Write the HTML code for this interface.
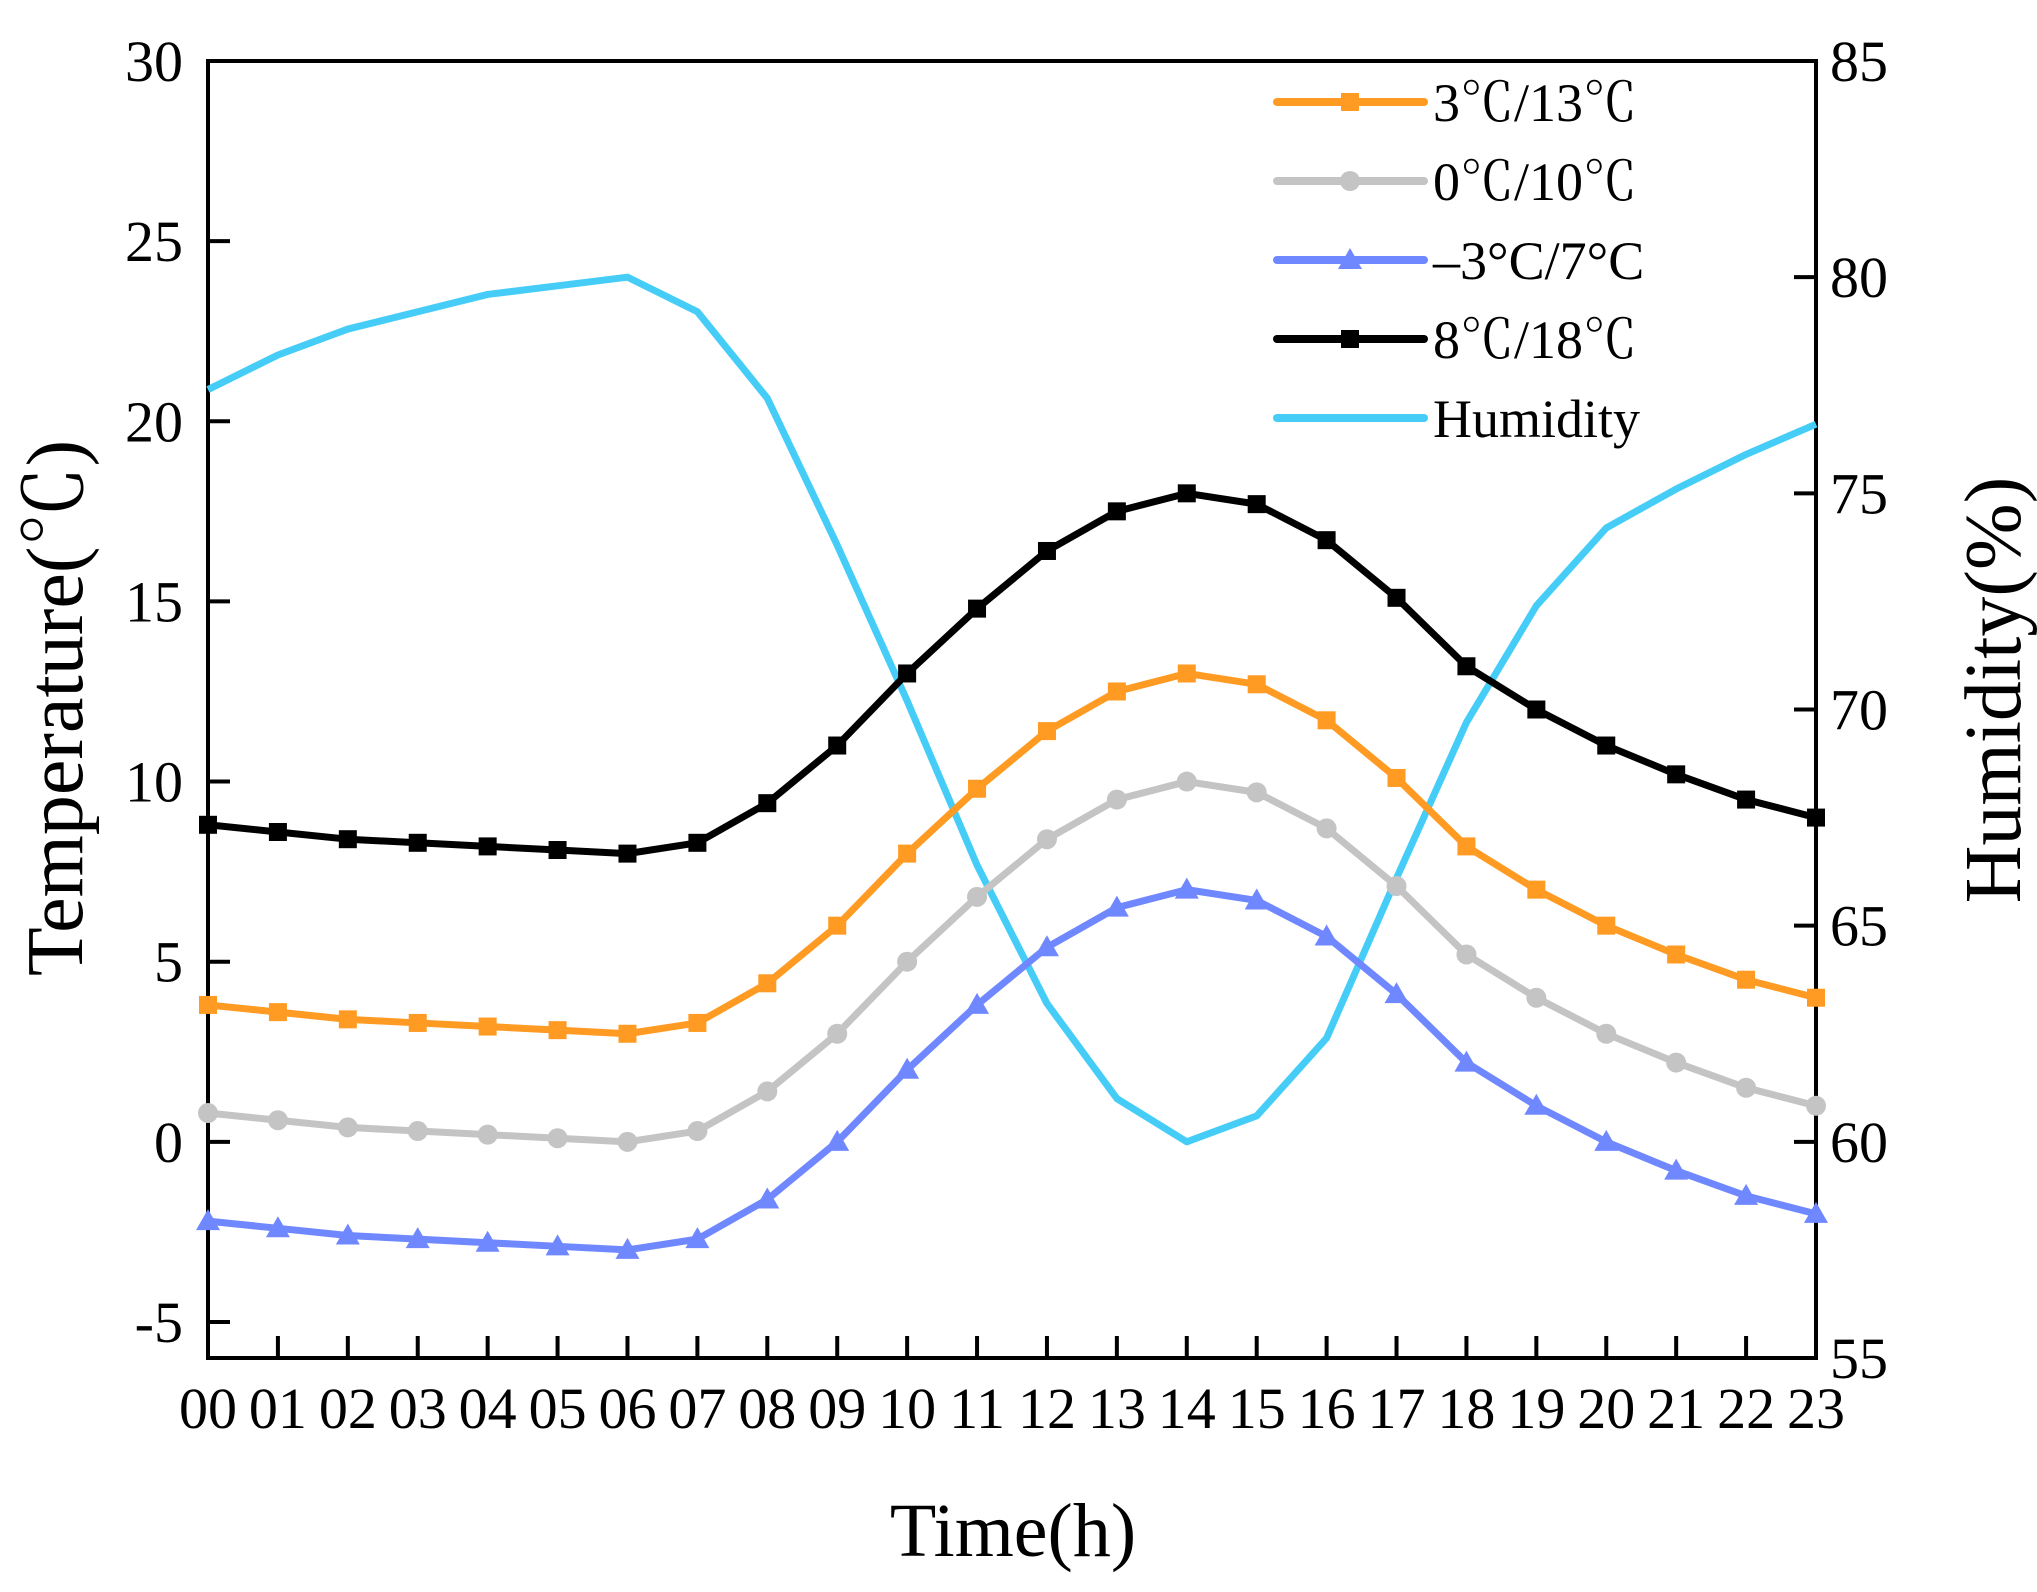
<!DOCTYPE html>
<html><head><meta charset="utf-8"><style>
html,body{margin:0;padding:0;background:#fff;}
svg{display:block;font-family:"Liberation Serif","Noto Serif CJK SC",serif;}
</style></head><body>
<svg id="chart" width="2037" height="1592" viewBox="0 0 2037 1592" xmlns="http://www.w3.org/2000/svg">
<g id="plot"></g>
</svg>
<script>
const hours = ["00","01","02","03","04","05","06","07","08","09","10","11","12","13","14","15","16","17","18","19","20","21","22","23"];
const s8_18 = [8.8,8.6,8.4,8.3,8.2,8.1,8.0,8.3,9.4,11,13,14.8,16.4,17.5,18,17.7,16.7,15.1,13.2,12,11,10.2,9.5,9.0];
const s3_13 = [3.8,3.6,3.4,3.3,3.2,3.1,3.0,3.3,4.4,6,8,9.8,11.4,12.5,13,12.7,11.7,10.1,8.2,7,6,5.2,4.5,4.0];
const s0_10 = [0.8,0.6,0.4,0.3,0.2,0.1,0,0.3,1.4,3,5,6.8,8.4,9.5,10,9.7,8.7,7.1,5.2,4,3,2.2,1.5,1.0];
const sm3_7 = [-2.2,-2.4,-2.6,-2.7,-2.8,-2.9,-3.0,-2.7,-1.6,0,2,3.8,5.4,6.5,7,6.7,5.7,4.1,2.2,1,0,-0.8,-1.5,-2.0];
const humidity = [77.4,78.2,78.8,79.2,79.6,79.8,80.0,79.2,77.2,73.8,70.2,66.4,63.2,61.0,60.0,60.6,62.4,66.1,69.7,72.4,74.2,75.1,75.9,76.6];
const tempTicks = [-5,0,5,10,15,20,25,30];
const humTicks = [55,60,65,70,75,80,85];

const L=208,R=1816,T=61,B=1358;
const xS=i=>L+(R-L)*i/(hours.length-1);
const yT=v=>B-(v-(-6))/(30-(-6))*(B-T);
const yH=v=>B-(v-55)/(85-55)*(B-T);
const NS="http://www.w3.org/2000/svg";
const g=document.getElementById('plot');
function el(tag,attrs,parent){const e=document.createElementNS(NS,tag);for(const k in attrs)e.setAttribute(k,attrs[k]);(parent||g).appendChild(e);return e;}
function txt(s,attrs){const e=el('text',attrs);e.textContent=s;return e;}

const frame=el('rect',{x:L,y:T,width:R-L,height:B-T,fill:'none',stroke:'#000','stroke-width':4});



tempTicks.forEach(v=>{
  const y=yT(v);
  const t=el('line',{x1:L,x2:L+22,y1:y,y2:y,stroke:'#000','stroke-width':4});
  
  
  const l=txt(String(v),{x:183,y:y+20,'font-size':58,'text-anchor':'end'});
  
  
});
humTicks.forEach(v=>{
  const y=yH(v);
  const t=el('line',{x1:R-22,x2:R,y1:y,y2:y,stroke:'#000','stroke-width':4});
  
  
  const l=txt(String(v),{x:1830,y:y+20,'font-size':58,'text-anchor':'start'});
  
  
});
hours.forEach((h,i)=>{
  const x=xS(i);
  const t=el('line',{x1:x,x2:x,y1:B-22,y2:B,stroke:'#000','stroke-width':4});
  
  
  const l=txt(h,{x:x,y:1428,'font-size':58,'text-anchor':'middle'});
  
  
});

const xt=txt('Time(h)',{x:1013,y:1556,'font-size':76,'text-anchor':'middle'});


const yt=txt('Temperature(℃)',{x:0,y:0,'font-size':80,'text-anchor':'middle',transform:'translate(82,708) rotate(-90)'});


const yt2=txt('Humidity(%)',{x:0,y:0,'font-size':80,'text-anchor':'middle',transform:'translate(2020,690) rotate(-90)'});



function marker(kind,x,y,color,parent){
  let m;
  if(kind==='square') m=el('rect',{x:x-9,y:y-9,width:18,height:18,fill:color},parent);
  else if(kind==='circle') m=el('circle',{cx:x,cy:y,r:10,fill:color},parent);
  else if(kind==='triangle') m=el('polygon',{points:`${x},${y-12} ${x-12},${y+9} ${x+12},${y+9}`,fill:color},parent);
  return m;
}

const hp=el('polyline',{points:humidity.map((v,i)=>xS(i)+','+yH(v)).join(' '),fill:'none',stroke:'#45cdf8','stroke-width':7,'stroke-linejoin':'round'});



const series=[
  {name:'series-3-13',data:s3_13,color:'#ff9a22',m:'square'},
  {name:'series-0-10',data:s0_10,color:'#c4c4c4',m:'circle'},
  {name:'series-minus3-7',data:sm3_7,color:'#7088ff',m:'triangle'},
  {name:'series-8-18',data:s8_18,color:'#000000',m:'square'}
];
series.forEach(s=>{
  const grp=el('g',{});
  
  
  el('polyline',{points:s.data.map((v,i)=>xS(i)+','+yT(v)).join(' '),fill:'none',stroke:s.color,'stroke-width':7,'stroke-linejoin':'round'},grp);
  s.data.forEach((v,i)=>{
    const m=marker(s.m,xS(i),yT(v),s.color,grp);
    
    
  });
});

const legend=[
  {label:'3℃/13℃',color:'#ff9a22',m:'square'},
  {label:'0℃/10℃',color:'#c4c4c4',m:'circle'},
  {label:'–3°C/7°C',color:'#7088ff',m:'triangle'},
  {label:'8℃/18℃',color:'#000000',m:'square'},
  {label:'Humidity',color:'#45cdf8',m:null}
];
const lg=el('g',{});


legend.forEach((e,k)=>{
  const y=102+k*79;
  const eg=el('g',{},lg);
  
  
  el('line',{x1:1277,x2:1424,y1:y,y2:y,stroke:e.color,'stroke-width':8,'stroke-linecap':'round'},eg);
  if(e.m) marker(e.m,1350,y,e.color,eg);
  const t=el('text',{x:1433,y:y+19,'font-size':54},eg);
  t.textContent=e.label;
});
</script>
</body></html>
